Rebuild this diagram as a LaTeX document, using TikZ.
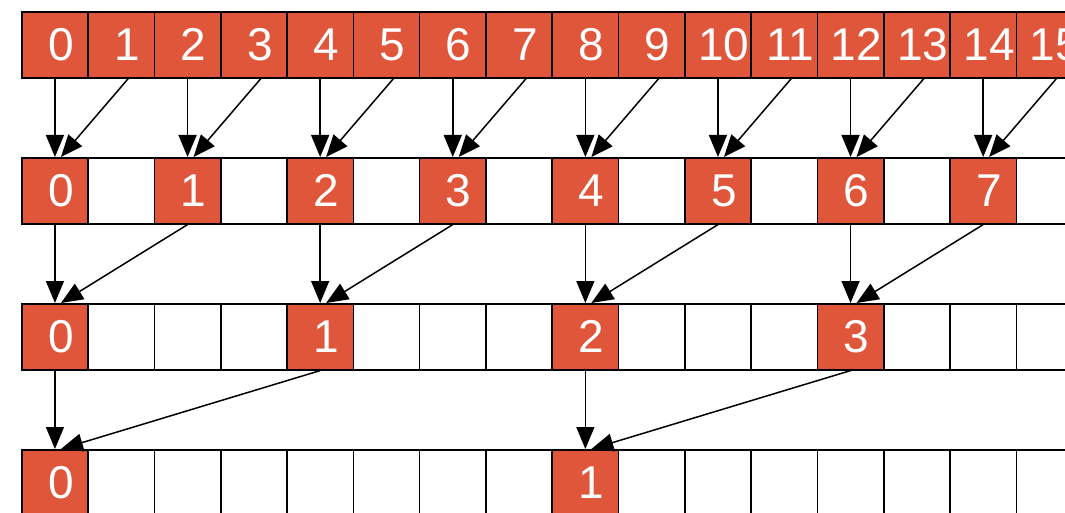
\documentclass[tikz,border=0pt]{standalone}
\usepackage{fontspec}
\setmainfont{Liberation Sans}
\usetikzlibrary{arrows.meta}
\definecolor{cellorange}{HTML}{E0563A}

\begin{document}
\begin{tikzpicture}[
    x=1pt,y=-1pt,
    cell/.style = {rectangle,draw=black,line width=1.6pt,minimum width=66.3pt,
                   minimum height=66pt,inner sep=0pt,anchor=north west},
    hot/.style  = {cell,fill=cellorange,text=white,
                   font=\fontsize{46}{46}\selectfont,
                   execute at begin node={\hspace*{12pt}}},
    fl/.style   = {-{Triangle[length=22pt,width=18pt]},line width=1.5pt},
  ]
  \useasboundingbox (0,0) rectangle (1065,513);
  \clip (0,0) rectangle (1065,513);

  % rows of cells
  \foreach \r/\y/\s in {0/11/1,1/157/2,2/303/4,3/449/8} {
    \foreach \c in {0,...,15} {
      \pgfmathtruncatemacro{\m}{mod(\c,\s)}
      \pgfmathtruncatemacro{\k}{\c/\s}
      \ifnum\m=0
        \node[hot] (n\r-\c) at (21+\c*66.3,\y) {\k};
      \else
        \node[cell] (n\r-\c) at (21+\c*66.3,\y) {};
      \fi
    }
  }

  % reduction arrows
  \foreach \r/\s/\dx in {0/1/7,1/2/0,2/4/0} {
    \pgfmathtruncatemacro{\n}{\r+1}
    \foreach \c in {0,...,15} {
      \pgfmathtruncatemacro{\m}{mod(\c,\s)}
      \pgfmathtruncatemacro{\t}{\c-mod(\c,2*\s)}
      \ifnum\m=0
        \ifnum\t=\c
          \draw[fl] (n\r-\c.south) -- (n\n-\t.north);
        \else
          \draw[fl] ([xshift=\dx pt]n\r-\c.south) -- ([xshift=6pt]n\n-\t.north);
        \fi
      \fi
    }
  }
\end{tikzpicture}
\end{document}
